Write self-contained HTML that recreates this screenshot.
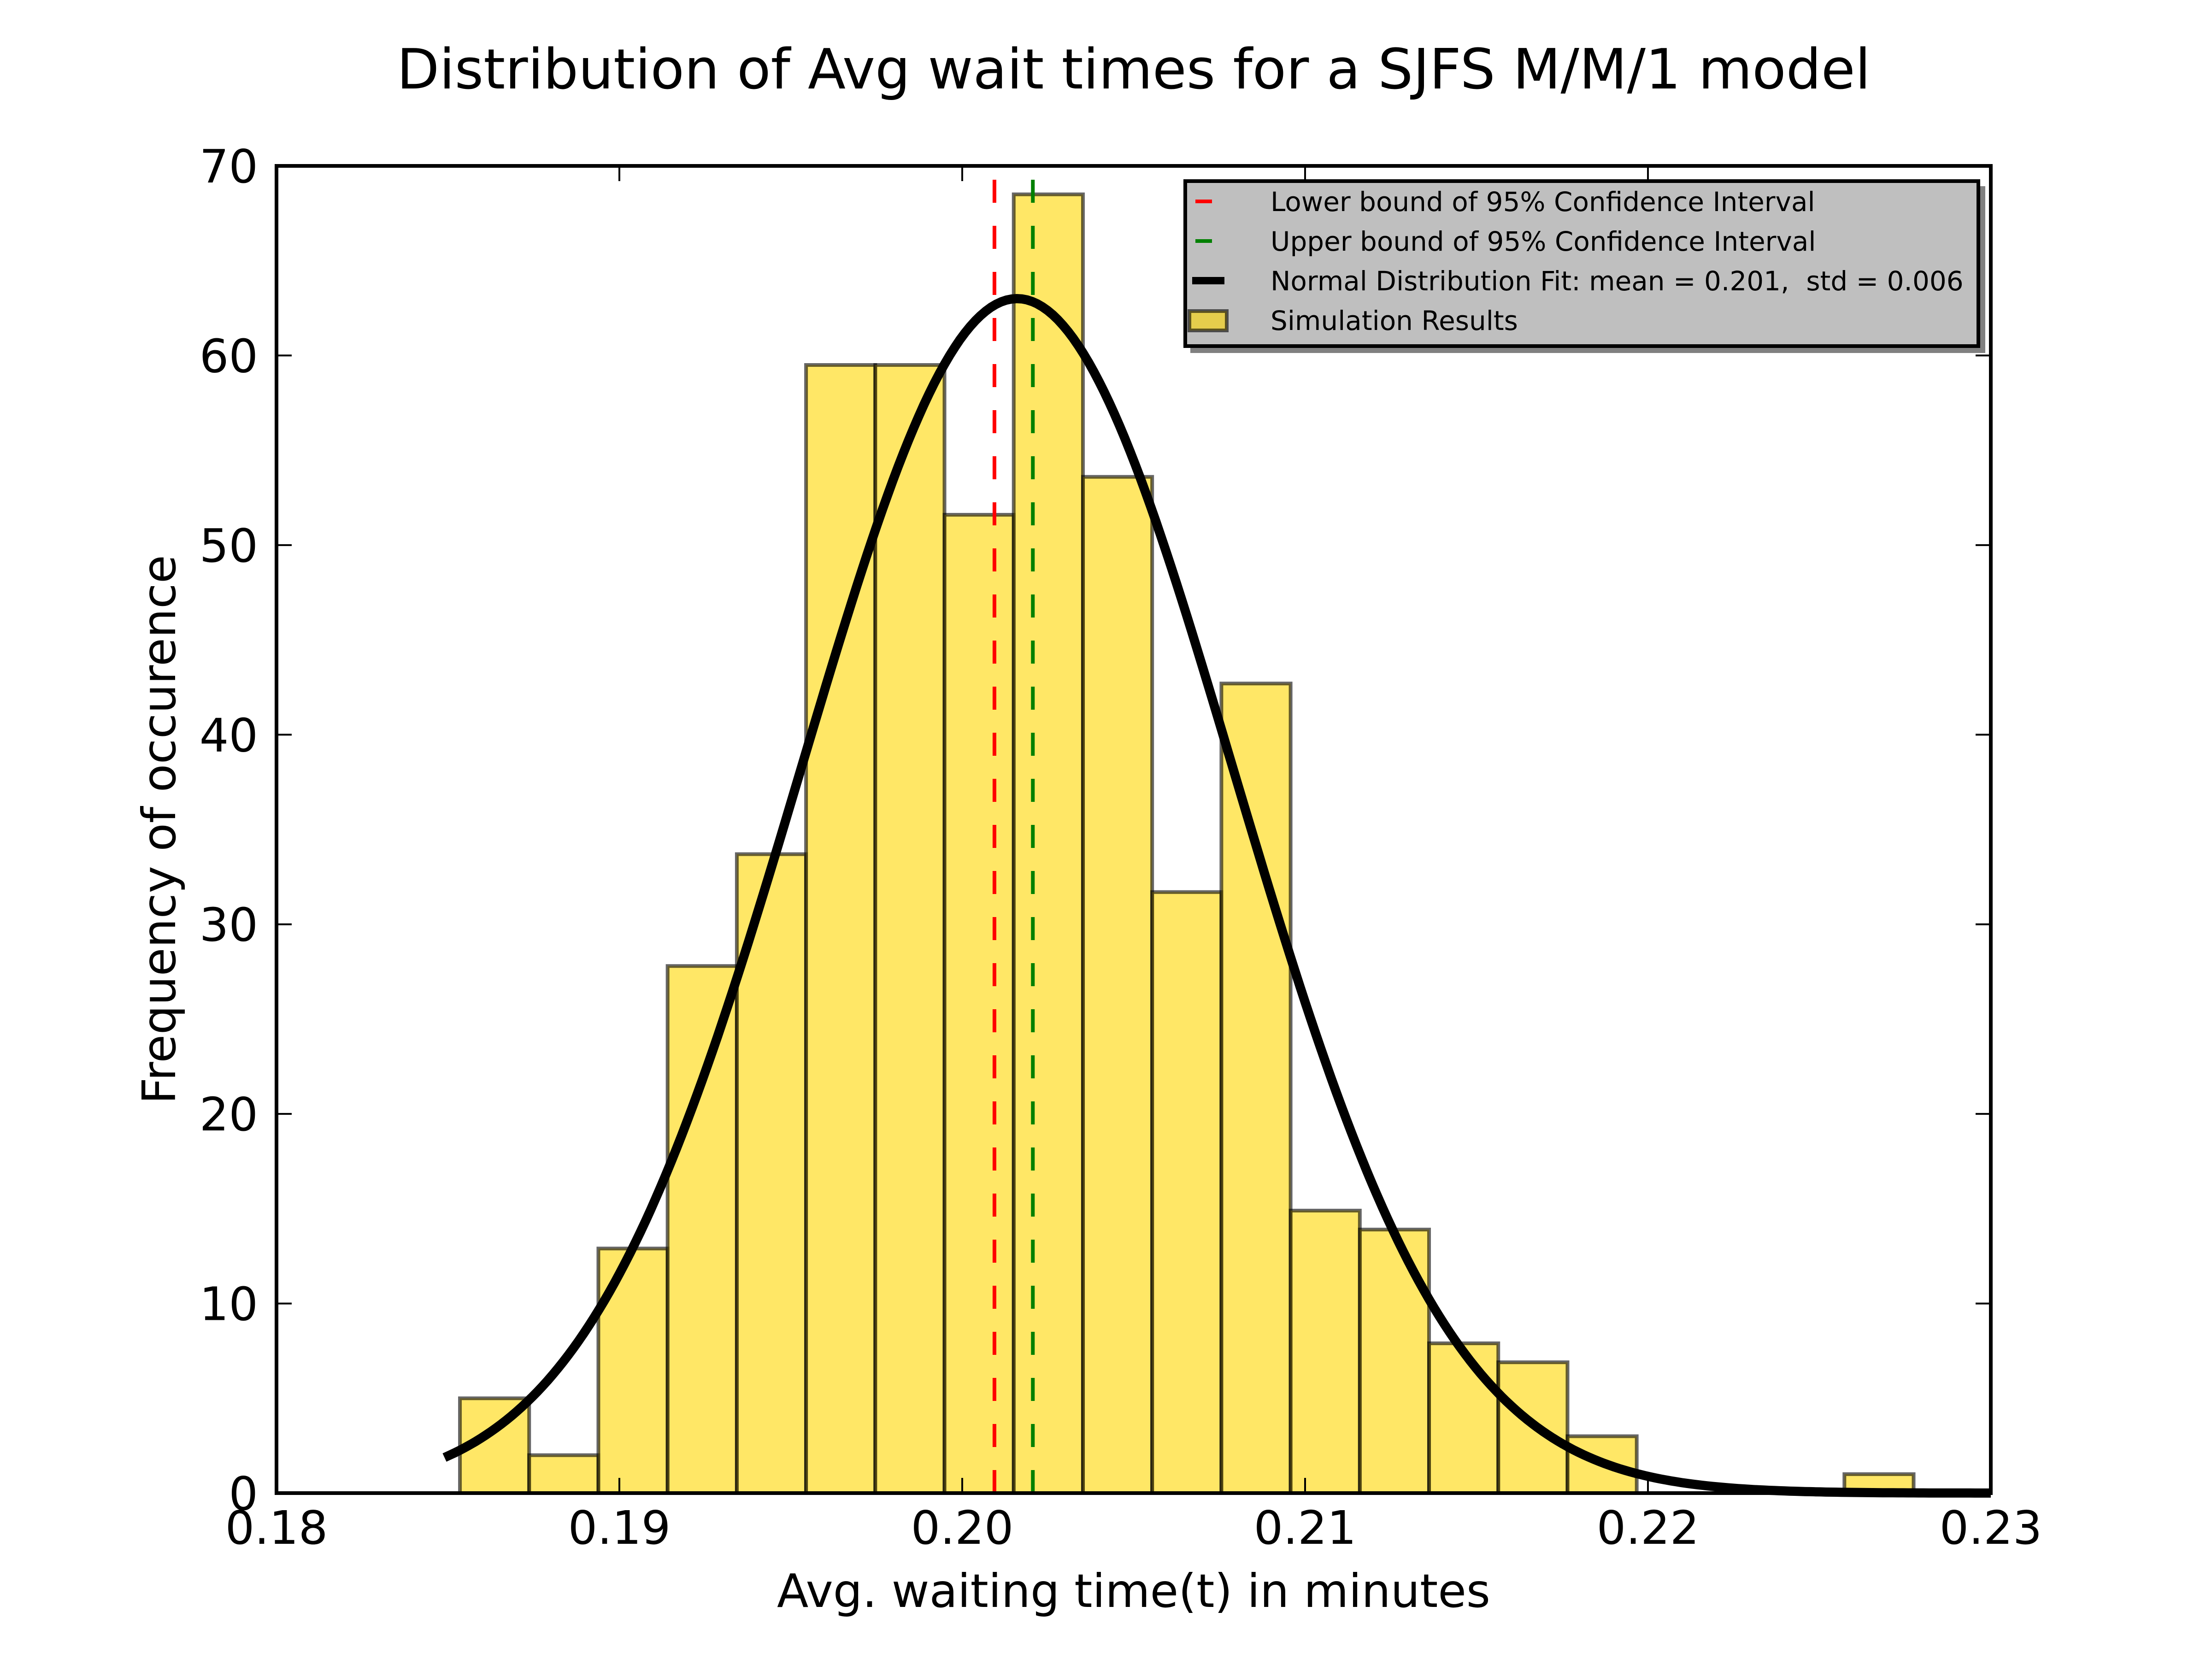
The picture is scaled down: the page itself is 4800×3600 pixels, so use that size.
<!DOCTYPE html>
<html><head><meta charset="utf-8"><style>
html,body{margin:0;padding:0;background:#fff;}
svg{display:block;font-family:"DejaVu Sans","Liberation Sans",sans-serif;}
</style></head><body>
<svg id="chart" width="4800" height="3600" viewBox="0 0 4800 3600" xmlns="http://www.w3.org/2000/svg">
<rect width="4800" height="3600" fill="#fff"/>
<text x="2460" y="192" font-size="120" text-anchor="middle">Distribution of Avg wait times for a SJFS M/M/1 model</text>
<g id="plot"></g>
<text x="2460" y="3487" font-size="100" text-anchor="middle">Avg. waiting time(t) in minutes</text>
<text transform="translate(380,1800) rotate(-90)" font-size="100" text-anchor="middle">Frequency of occurence</text>
<g>
<rect x="2583" y="404" width="1725" height="362" fill="#808080"/>
<rect x="2572" y="393" width="1721" height="358" fill="#bfbfbf" stroke="#000" stroke-width="8"/>
<line x1="2594" y1="437" x2="2630" y2="437" stroke="#ff0000" stroke-width="8"/>
<text x="2757" y="458" font-size="58">Lower bound of 95% Confidence Interval</text>
<line x1="2594" y1="523" x2="2630" y2="523" stroke="#008000" stroke-width="8"/>
<text x="2757" y="544" font-size="58">Upper bound of 95% Confidence Interval</text>
<line x1="2587" y1="609" x2="2657" y2="609" stroke="#000" stroke-width="16"/>
<text x="2757" y="630" font-size="58">Normal Distribution Fit: mean = 0.201,&#160; std = 0.006</text>
<rect x="2581" y="675" width="81" height="42" fill="rgba(255,215,0,0.6)" stroke="rgba(0,0,0,0.6)" stroke-width="8"/>
<text x="2757" y="716" font-size="58">Simulation Results</text>
</g>
</svg>
<script>
const binStart = 0.18535;
const binWidth = 0.002019;
const counts = [5.0, 2.0, 12.9, 27.8, 33.7, 59.5, 59.5, 51.6, 68.5, 53.6, 31.7, 42.7, 14.9, 13.9, 7.9, 6.9, 3.0, 0, 0, 0, 1.0];
const fitMean = 0.2016;
const fitStd = 0.0063;
const fitPeak = 63.0;
const fitStart = 0.1849;
const ciLower = 0.20094;
const ciUpper = 0.20206;
const xTicks = [0.18, 0.19, 0.20, 0.21, 0.22, 0.23];
const xTickLabels = ["0.18", "0.19", "0.20", "0.21", "0.22", "0.23"];
const yTicks = [0, 10, 20, 30, 40, 50, 60, 70];

const L = 600, R = 4320, T = 360, B = 3240;
const xMin = 0.18, xMax = 0.23, yMin = 0, yMax = 70;
const sx = v => L + (v - xMin) / (xMax - xMin) * (R - L);
const sy = v => B - (v - yMin) / (yMax - yMin) * (B - T);
const NS = "http://www.w3.org/2000/svg";
const plot = document.getElementById('plot');
function mk(tag, attrs) {
  const e = document.createElementNS(NS, tag);
  for (const k in attrs) e.setAttribute(k, attrs[k]);
  plot.appendChild(e);
  return e;
}
counts.forEach((c, i) => {
  if (c <= 0) return;
  const x0 = sx(binStart + i * binWidth), x1 = sx(binStart + (i + 1) * binWidth);
  const r = mk('rect', {x: x0, y: sy(c), width: x1 - x0, height: sy(0) - sy(c), fill: 'rgba(255,215,0,0.6)', stroke: 'rgba(0,0,0,0.6)', 'stroke-width': 8});
  
  
});
let d = '';
const n = 300, xa = fitStart, xb = xMax;
for (let i = 0; i <= n; i++) {
  const x = xa + (xb - xa) * i / n;
  const y = fitPeak * Math.exp(-0.5 * Math.pow((x - fitMean) / fitStd, 2));
  d += (i ? 'L' : 'M') + sx(x).toFixed(1) + ' ' + sy(y).toFixed(1);
}
const curve = mk('path', {d: d, fill: 'none', stroke: '#000', 'stroke-width': 20, 'stroke-linejoin': 'round'});


const lo = mk('line', {x1: sx(ciLower), x2: sx(ciLower), y1: 390, y2: B, stroke: '#ff0000', 'stroke-width': 8, 'stroke-dasharray': '50 50'});


const up = mk('line', {x1: sx(ciUpper), x2: sx(ciUpper), y1: 390, y2: B, stroke: '#008000', 'stroke-width': 8, 'stroke-dasharray': '50 50'});


xTicks.forEach((t, i) => {
  const x = sx(t);
  const a = mk('line', {x1: x, x2: x, y1: B, y2: B - 33, stroke: '#000', 'stroke-width': 4});
  
  
  const b = mk('line', {x1: x, x2: x, y1: T, y2: T + 33, stroke: '#000', 'stroke-width': 4});
  
  
  const tx = mk('text', {x: x, y: 3350, 'font-size': 100, 'text-anchor': 'middle'});
  tx.textContent = xTickLabels[i];
  
  
});
yTicks.forEach(t => {
  const y = sy(t);
  const a = mk('line', {x1: L, x2: L + 33, y1: y, y2: y, stroke: '#000', 'stroke-width': 4});
  
  
  const b = mk('line', {x1: R, x2: R - 33, y1: y, y2: y, stroke: '#000', 'stroke-width': 4});
  
  
  const tx = mk('text', {x: 560, y: y + 36, 'font-size': 100, 'text-anchor': 'end'});
  tx.textContent = String(t);
  
  
});
const frame = mk('rect', {x: L, y: T, width: R - L, height: B - T, fill: 'none', stroke: '#000', 'stroke-width': 8});


</script>
</body></html>
